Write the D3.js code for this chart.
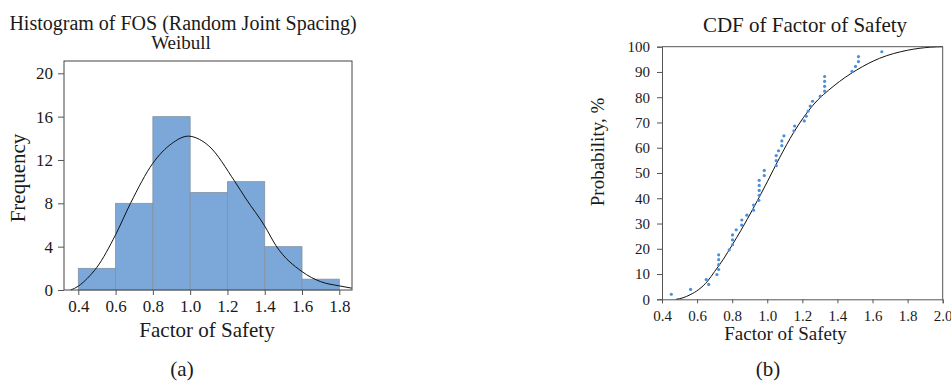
<!DOCTYPE html>
<html>
<head>
<meta charset="utf-8">
<script src="https://cdn.jsdelivr.net/npm/d3@7"></script>
<style>
  body { margin: 0; background: #fff; }
  svg text { font-family: "Liberation Serif", "Times New Roman", serif; fill: #1a1a1a; }
  .axis path, .axis line { stroke: #555; }
</style>
</head>
<body>
<div id="chart"></div>
<script>
// histogram (a)
const binEdges = [0.4, 0.6, 0.8, 1.0, 1.2, 1.4, 1.6, 1.8];
const binCounts = [2, 8, 16, 9, 10, 4, 1];
const histXTicks = [0.4, 0.6, 0.8, 1.0, 1.2, 1.4, 1.6, 1.8];
const histYTicks = [0, 4, 8, 12, 16, 20];
// fitted weibull curve
const pdfX = [0.36, 0.40, 0.45, 0.50, 0.60, 0.68, 0.80, 0.90, 0.99, 1.05, 1.10, 1.24, 1.30, 1.40, 1.46, 1.60, 1.70, 1.80, 1.867];
const pdfY = [0, 0.35, 1.1, 2.1, 5.1, 8.0, 11.7, 13.5, 14.2, 13.9, 13.3, 10.0, 8.4, 5.9, 4.1, 1.7, 0.77, 0.38, 0.17];

// cdf (b)
const cdfPtX = [0.453, 0.563, 0.666, 0.652, 0.713, 0.723, 0.723, 0.723, 0.723, 0.783,
  0.802, 0.802, 0.802, 0.823, 0.854, 0.855, 0.884, 0.922, 0.922, 0.952,
  0.954, 0.954, 0.954, 0.954, 0.983, 0.983, 1.051, 1.051, 1.051, 1.064,
  1.083, 1.083, 1.095, 1.152, 1.156, 1.211, 1.222, 1.233, 1.245, 1.258,
  1.302, 1.327, 1.327, 1.327, 1.327, 1.483, 1.503, 1.520, 1.520, 1.653];
const cdfPtP = [2.0, 3.9, 5.9, 7.8, 9.8, 11.8, 13.7, 15.7, 17.6, 19.6,
  21.6, 23.5, 25.5, 27.5, 29.4, 31.4, 33.3, 35.3, 37.3, 39.2,
  41.2, 43.1, 45.1, 47.1, 49.0, 51.0, 52.9, 54.9, 56.9, 58.8,
  60.8, 62.7, 64.7, 66.7, 68.6, 70.6, 72.5, 74.5, 76.5, 78.4,
  80.4, 82.4, 84.3, 86.3, 88.2, 90.2, 92.2, 94.1, 96.1, 98.0];
const cdfCurveX = [0.48, 0.52, 0.56, 0.61, 0.66, 0.70, 0.75, 0.80, 0.85, 0.92, 1.00, 1.07, 1.15, 1.26, 1.38, 1.51, 1.64, 1.80, 1.93, 2.00];
const cdfCurveP = [0, 0.6, 1.8, 3.9, 7.2, 11.0, 15.9, 21.5, 27.3, 36.0, 46.5, 56.0, 66.0, 76.8, 84.5, 90.8, 95.4, 98.6, 99.8, 100];
const cdfXTicks = [0.4, 0.6, 0.8, 1.0, 1.2, 1.4, 1.6, 1.8, 2.0];
const cdfYTicks = [0, 10, 20, 30, 40, 50, 60, 70, 80, 90, 100];

const width = 951, height = 383;
const serif = '"Liberation Serif", "Times New Roman", serif';
const svg = d3.select('#chart').append('svg')
  .attr('width', width).attr('height', height)
  .attr('viewBox', [0, 0, width, height]);

const fmt1 = d3.format('.1f');

function styleAxis(g, size) {
  g.attr('font-family', serif).attr('font-size', size);
  g.selectAll('text')
    .attr('font-family', serif)
    .style('font-family', serif)
    .style('font-size', size + 'px')
    .attr('fill', '#1a1a1a');
}

// ---------- (a) histogram ----------
const frameA = { left: 64, right: 352, top: 61, bottom: 290 };
const xA = d3.scaleLinear().domain([0.4, 1.8]).range([78.3, 339.3]);
const yA = d3.scaleLinear().domain([0, 20]).range([290, 73.3]);

const gA = svg.append('g');

gA.selectAll('rect.bar')
  .data(binCounts)
  .join('rect')
  .attr('class', 'bar')
  .attr('x', (d, i) => xA(binEdges[i]))
  .attr('y', d => yA(d))
  .attr('width', (d, i) => xA(binEdges[i + 1]) - xA(binEdges[i]))
  .attr('height', d => yA(0) - yA(d))
  .attr('fill', '#7ba7d9')
  .attr('stroke', '#8392a3')
  .attr('stroke-width', 0.8);

gA.append('path')
  .datum(pdfX.map((x, i) => [x, pdfY[i]]))
  .attr('fill', 'none')
  .attr('stroke', '#111')
  .attr('stroke-width', 1)
  .attr('d', d3.line().x(d => xA(d[0])).y(d => yA(d[1])).curve(d3.curveMonotoneX));

gA.append('rect')
  .attr('x', frameA.left).attr('y', frameA.top)
  .attr('width', frameA.right - frameA.left)
  .attr('height', frameA.bottom - frameA.top)
  .attr('fill', 'none').attr('stroke', '#444').attr('stroke-width', 1);

const axAx = gA.append('g')
  .attr('class', 'axis')
  .attr('transform', `translate(0,${frameA.bottom})`)
  .call(d3.axisBottom(xA).tickValues(histXTicks).tickFormat(fmt1).tickSizeOuter(0).tickSize(5).tickPadding(5));
axAx.select('.domain').remove();
styleAxis(axAx, 17);

const axAy = gA.append('g')
  .attr('class', 'axis')
  .attr('transform', `translate(${frameA.left},0)`)
  .call(d3.axisLeft(yA).tickValues(histYTicks).tickSizeOuter(0).tickSize(6).tickPadding(5));
axAy.select('.domain').remove();
styleAxis(axAy, 17);

gA.append('text').attr('x', 183).attr('y', 30).attr('text-anchor', 'middle')
  .style('font-size', '20px').text('Histogram of FOS (Random Joint Spacing)');
gA.append('text').attr('x', 181).attr('y', 49).attr('text-anchor', 'middle')
  .style('font-size', '19px').text('Weibull');
gA.append('text').attr('transform', 'translate(25,178) rotate(-90)').attr('text-anchor', 'middle')
  .style('font-size', '21px').text('Frequency');
gA.append('text').attr('x', 207).attr('y', 337).attr('text-anchor', 'middle')
  .style('font-size', '21px').text('Factor of Safety');
gA.append('text').attr('x', 182).attr('y', 376).attr('text-anchor', 'middle')
  .style('font-size', '21px').text('(a)');

// ---------- (b) cdf ----------
const frameB = { left: 662, right: 942.7, top: 46.7, bottom: 299.3 };
const xB = d3.scaleLinear().domain([0.4, 2.0]).range([frameB.left, frameB.right]);
const yB = d3.scaleLinear().domain([0, 100]).range([frameB.bottom, frameB.top]);

const gB = svg.append('g');

gB.append('path')
  .datum(cdfCurveX.map((x, i) => [x, cdfCurveP[i]]))
  .attr('fill', 'none')
  .attr('stroke', '#111')
  .attr('stroke-width', 1)
  .attr('d', d3.line().x(d => xB(d[0])).y(d => yB(d[1])).curve(d3.curveMonotoneX));

gB.selectAll('circle')
  .data(cdfPtX.map((x, i) => [x, cdfPtP[i]]))
  .join('circle')
  .attr('cx', d => xB(d[0]))
  .attr('cy', d => yB(d[1]))
  .attr('r', 1.6)
  .attr('fill', '#4a8fdc');

gB.append('path')
  .attr('d', `M${frameB.left},${frameB.top}H${frameB.right}V${frameB.bottom}`)
  .attr('fill', 'none').attr('stroke', '#555').attr('stroke-width', 1);

const axBx = gB.append('g')
  .attr('class', 'axis')
  .attr('transform', `translate(0,${frameB.bottom})`)
  .call(d3.axisBottom(xB).tickValues(cdfXTicks).tickFormat(fmt1).tickSizeOuter(0).tickSize(4).tickPadding(7));
styleAxis(axBx, 15);

const axBy = gB.append('g')
  .attr('class', 'axis')
  .attr('transform', `translate(${frameB.left},0)`)
  .call(d3.axisLeft(yB).tickValues(cdfYTicks).tickSizeOuter(0).tickSize(5).tickPadding(7));
styleAxis(axBy, 15);

gB.append('text').attr('x', 805).attr('y', 32).attr('text-anchor', 'middle')
  .style('font-size', '21px').text('CDF of Factor of Safety');
gB.append('text').attr('transform', 'translate(604,152) rotate(-90)').attr('text-anchor', 'middle')
  .style('font-size', '19px').text('Probability, %');
gB.append('text').attr('x', 785.5).attr('y', 340).attr('text-anchor', 'middle')
  .style('font-size', '19px').text('Factor of Safety');
gB.append('text').attr('x', 768).attr('y', 376).attr('text-anchor', 'middle')
  .style('font-size', '21px').text('(b)');
</script>
</body>
</html>
